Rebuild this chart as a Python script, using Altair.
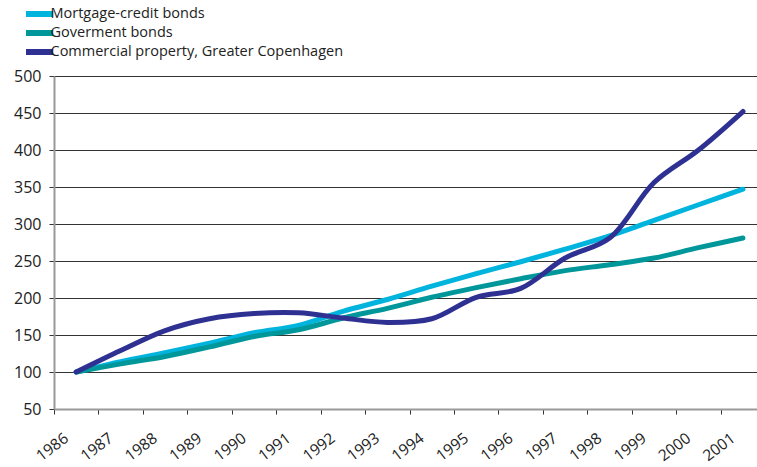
import altair as alt
import pandas as pd

years = list(range(1986, 2002))
mortgage = [100, 114, 126, 139, 153, 163, 182, 198, 216, 233, 249, 266, 284, 305, 326, 347]
government = [100, 111, 121, 134, 148, 157, 173, 186, 201, 214, 226, 237, 245, 254, 268, 281]
commercial = [100, 129, 156, 172, 179, 180, 173, 167, 172, 201, 213, 254, 281, 356, 400, 452]

series_names = [
    "Mortgage-credit bonds",
    "Goverment bonds",
    "Commercial property, Greater Copenhagen",
]
series_colors = ["#00B4DE", "#00979B", "#2E3192"]

rows = []
for name, vals in zip(series_names, [mortgage, government, commercial]):
    for y, v in zip(years, vals):
        rows.append({"year": y, "value": v, "series": name})
df = pd.DataFrame(rows)

tick_years = [y - 0.5 for y in years]

FONT = "Open Sans"

chart = (
    alt.Chart(df)
    .mark_line(strokeWidth=5, interpolate="catmull-rom", strokeCap="round", strokeJoin="round")
    .encode(
        x=alt.X(
            "year:Q",
            scale=alt.Scale(domain=[1985.5, 2001.316], nice=False, zero=False),
            axis=alt.Axis(
                values=tick_years,
                labelExpr="'' + (datum.value + 0.5)",
                labelOffset=12,
                labelAngle=-37,
                labelAlign="right",
                labelBaseline="middle",
                labelPadding=22,
                labelFlush=False,
                labelOverlap=False,
                labelBound=False,
                labelFontSize=15.5,
                labelColor="#222222",
                labelFont=FONT,
                tickSize=5,
                tickColor="#333333",
                domainColor="#999999",
                domainWidth=2,
                grid=False,
                title=None,
                zindex=1,
            ),
        ),
        y=alt.Y(
            "value:Q",
            scale=alt.Scale(domain=[50, 500], nice=False, zero=False),
            axis=alt.Axis(
                values=list(range(50, 501, 50)),
                labelFontSize=16,
                labelColor="#222222",
                labelFont=FONT,
                labelPadding=8,
                tickSize=5,
                tickColor="#333333",
                domainColor="#999999",
                domainWidth=2,
                gridColor="#333333",
                gridWidth=1,
                title=None,
            ),
        ),
        color=alt.Color(
            "series:N",
            scale=alt.Scale(domain=series_names, range=series_colors),
            sort=series_names,
            legend=alt.Legend(
                title=None,
                orient="none",
                legendX=-28,
                legendY=-70,
                symbolType="M-5,0L5,0",
                symbolStrokeWidth=6,
                symbolSize=64,
                labelFontSize=14.5,
                labelFont=FONT,
                labelColor="#222222",
                labelOffset=10,
                labelLimit=0,
                clipHeight=16,
                rowPadding=3,
            ),
        ),
    )
    .properties(
        width=703,
        height=333,
        padding={"left": 54, "top": 76, "right": 0, "bottom": 58},
        autosize=alt.AutoSizeParams(type="none"),
    )
    .configure_view(stroke=None)
)

chart.save("out.html", embed_options={"renderer": "svg", "actions": False})
